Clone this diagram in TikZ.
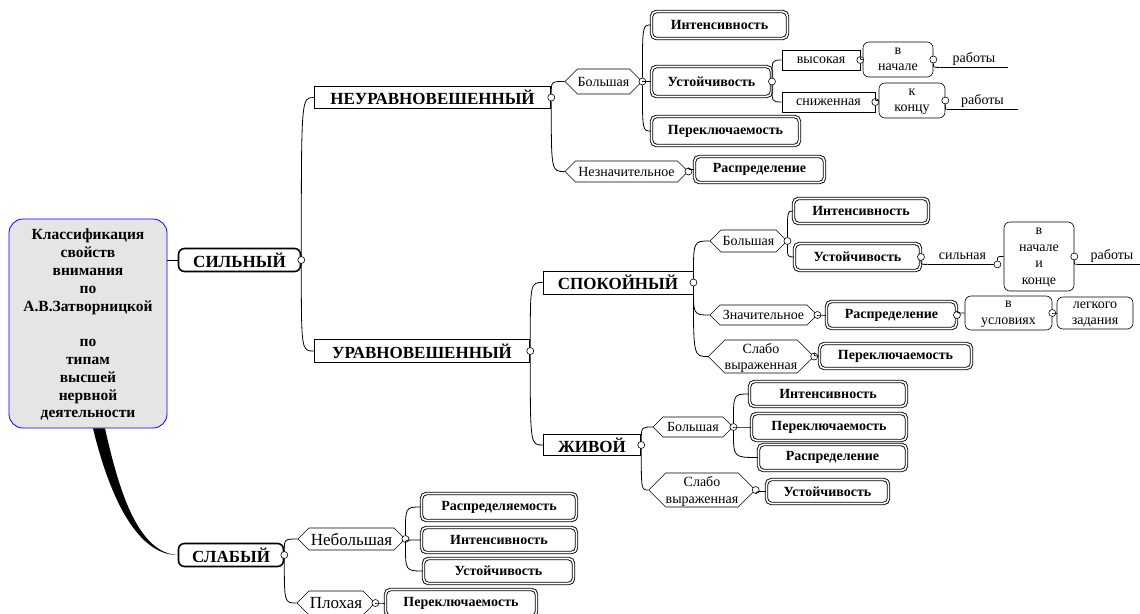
\documentclass[tikz,border=0pt]{standalone}
\usepackage{fontspec}
\setmainfont{Liberation Serif}
\usepackage{tikz}
\usetikzlibrary{shapes.symbols}

\begin{document}
\begin{tikzpicture}[-,auto,x=1pt,y=-1pt,line width=0.8pt,
	sz/.style 2 args={minimum width=#1pt,minimum height=#2pt},
	ml/.style={text depth=-13pt}]
	\tikzstyle{root}=[draw=blue, fill=black!10, rounded corners=14pt, align=center, inner sep=0pt, ml, font=\fontsize{15.5}{17.8}\selectfont\bfseries]
	\tikzstyle{big}=[draw, fill=white, line width=1.6pt, rounded corners=6pt, inner sep=0pt, font=\fontsize{17}{19}\selectfont\bfseries]
	\tikzstyle{kind}=[draw, fill=white, line width=1.5pt, inner sep=0pt, font=\fontsize{17}{19}\selectfont\bfseries]
	\tikzstyle{grade}=[draw, fill=white, line width=0.6pt, signal, signal to=east and west, inner sep=0pt, align=center, font=\fontsize{14}{16.5}\selectfont]
	\tikzstyle{prop}=[draw, fill=white, double, double distance=1.6pt, line width=0.9pt, rounded corners=5pt, inner sep=0pt, font=\fontsize{14}{16}\selectfont\bfseries]
	\tikzstyle{note}=[draw, fill=white, line width=0.6pt, rounded corners=6pt, inner sep=0pt, align=center, ml, font=\fontsize{14}{16.5}\selectfont]
	\tikzstyle{tag}=[draw, fill=white, line width=0.6pt, inner sep=0pt, font=\fontsize{14}{16}\selectfont]
	\tikzstyle{uline}=[inner sep=0pt, font=\fontsize{14}{16}\selectfont]
	\tikzstyle{knob}=[draw, circle, fill=white, line width=0.6pt, inner sep=0pt, minimum size=7pt]
	\tikzstyle{br}=[to path={.. controls (\tikztostart |- \tikztotarget) .. (\tikztotarget)}]
	\useasboundingbox (0,0) rectangle (1140,613);
	\clip (0,0) rectangle (1140,613);
	\node[root, sz={158}{209}] (cls) at (88,323.5) {Классификация\\свойств\\внимания\\по\\А.В.Затворницкой\\[17.8pt]по\\типам\\высшей\\нервной\\деятельности};
	\node[big, sz={122}{23}] (sil) at (239.5,260) {СИЛЬНЫЙ};
	\node[big, sz={105}{23}] (slab) at (231,555) {СЛАБЫЙ};
	\node[kind, sz={236}{22}] (neur) at (432.5,97.5) {НЕУРАВНОВЕШЕННЫЙ};
	\node[kind, sz={215}{23}] (urav) at (422,351) {УРАВНОВЕШЕННЫЙ};
	\node[kind, line width=0.8pt, sz={150}{23}] (spok) at (618,282.5) {СПОКОЙНЫЙ};
	\node[kind, sz={97}{21}] (zhiv) at (592,445) {ЖИВОЙ};
	\node[grade, sz={77}{25}] (g1) at (603.5,81.5) {Большая};
	\node[grade, sz={123}{21}] (g2) at (626.5,171.5) {Незначительное};
	\node[grade, sz={77}{22}] (g3) at (748.5,241) {Большая};
	\node[grade, sz={107}{20}] (g4) at (763.5,315) {Значительное};
	\node[grade, ml, sz={102}{33}] (g5) at (761,356.5) {Слабо\\выраженная};
	\node[grade, sz={80}{20}] (g6) at (693,427) {Большая};
	\node[grade, ml, sz={98}{34}] (g7) at (702,490) {Слабо\\выраженная};
	\node[grade, font=\fontsize{17}{19}\selectfont, sz={107}{22}] (g8) at (351.5,539) {Небольшая};
	\node[grade, font=\fontsize{17}{19}\selectfont, sz={78}{24}] (g9) at (336,603) {Плохая};
	\node[prop, sz={136}{27}] (p1) at (719.5,25) {Интенсивность};
	\node[prop, sz={120}{30}] (p2) at (711.5,81.5) {Устойчивость};
	\node[prop, sz={148}{29}] (p3) at (725.5,131) {Переключаемость};
	\node[prop, sz={130}{26}] (p4) at (759.5,169.5) {Распределение};
	\node[prop, sz={135}{25}] (p5) at (861,211) {Интенсивность};
	\node[prop, sz={126}{27}] (p6) at (857.5,257) {Устойчивость};
	\node[prop, sz={130}{27}] (p7) at (891.5,315) {Распределение};
	\node[prop, sz={152}{25}] (p8) at (895.5,356) {Переключаемость};
	\node[prop, sz={157}{25}] (p9) at (828,394) {Интенсивность};
	\node[prop, sz={155}{27}] (p10) at (829,427) {Переключаемость};
	\node[prop, sz={148}{26}] (p11) at (832.5,457.5) {Распределение};
	\node[prop, sz={122}{24}] (p12) at (827.5,491.5) {Устойчивость};
	\node[prop, sz={155}{27}] (p13) at (499,507) {Распределяемость};
	\node[prop, sz={155}{25}] (p14) at (499,540) {Интенсивность};
	\node[prop, sz={150}{25}] (p15) at (498.5,571) {Устойчивость};
	\node[prop, sz={151}{27}] (p16) at (461,603) {Переключаемость};
	\node[tag, sz={78}{20}] (t1) at (821,60) {высокая};
	\node[note, sz={70}{35}] (n1) at (898,59.5) {в\\начале};
	\node[tag, sz={93}{20}] (t2) at (828.5,102) {сниженная};
	\node[note, sz={66}{35}] (n2) at (912,100.5) {к\\концу};
	\node[uline, sz={68}{16}] (w1) at (974,59) {работы};
	\node[uline, sz={71}{16}] (w2) at (982.5,101) {работы};
	\node[uline, sz={69}{16}] (w3) at (962.5,256) {сильная};
	\node[note, sz={70}{69}] (n3) at (1039,256.5) {в\\начале\\и\\конце};
	\node[uline, sz={70}{16}] (w4) at (1112,256) {работы};
	\node[note, sz={87}{34}] (n4) at (1008.5,313) {в\\условиях};
	\node[note, sz={76}{32}] (n5) at (1095,313) {легкого\\задания};
	\fill ([xshift=5pt]cls.south) .. controls +(15,62) and +(-43,0) .. (slab.west) .. controls +(-41,-2) and +(13,58) .. ([xshift=17pt]cls.south) -- cycle;
	\foreach \v in {sil,slab,neur,urav,spok,zhiv,g1,g2,g3,g4,g5,g6,g7,g8,g9,p2,p6,p7,t1,t2,n1,n2,n3,n4}
		\node[knob] (\v-o) at (\v.east) {};
	\node[knob] (w3-o) at (w3.south east) {};
	\path
		(sil.west) edge (sil.west -| cls.east)
		(sil-o) edge[br] (neur.west)
		(sil-o) edge[br] (urav.west)
		(neur-o) edge[br] (g1.west)
		(neur-o) edge[br] (g2.west)
		(g1-o) edge[br] (p1.west)
		(g1-o) edge[br] (p2.west)
		(g1-o) edge[br] (p3.west)
		(g2-o) edge[br] (p4.west)
		(p2-o) edge[br] (t1.west)
		(p2-o) edge[br] (t2.west)
		(t1-o) edge[br] (n1.west)
		(t2-o) edge[br] (n2.west)
		(n1-o) edge[br] (w1.south west)
		(w1.south west) edge (w1.south east)
		(n2-o) edge[br] (w2.south west)
		(w2.south west) edge (w2.south east)
		(urav-o) edge[br] (spok.west)
		(urav-o) edge[br] (zhiv.west)
		(spok-o) edge[br] (g3.west)
		(spok-o) edge[br] (g4.west)
		(spok-o) edge[br] (g5.west)
		(g3-o) edge[br] (p5.west)
		(g3-o) edge[br] (p6.west)
		(p6-o) edge[br] (w3.south west)
		(w3.south west) edge (w3-o)
		(w3-o) edge[br] (n3.west)
		(n3-o) edge[br] (w4.south west)
		(w4.south west) edge (w4.south east)
		(g4-o) edge[br] (p7.west)
		(p7-o) edge[br] (n4.west)
		(n4-o) edge[br] (n5.west)
		(g5-o) edge[br] (p8.west)
		(zhiv-o) edge[br] (g6.west)
		(zhiv-o) edge[br] (g7.west)
		(g6-o) edge[br] (p9.west)
		(g6-o) edge[br] (p10.west)
		(g6-o) edge[br] (p11.west)
		(g7-o) edge[br] (p12.west)
		(slab-o) edge[br] (g8.west)
		(slab-o) edge[br] (g9.west)
		(g8-o) edge[br] (p13.west)
		(g8-o) edge[br] (p14.west)
		(g8-o) edge[br] (p15.west)
		(g9-o) edge[br] (p16.west);
\end{tikzpicture}
\end{document}
